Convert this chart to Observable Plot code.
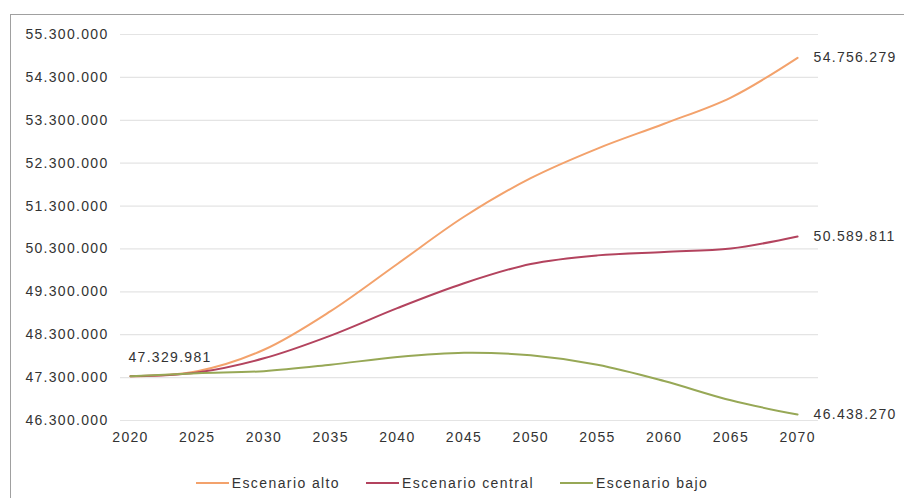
<!DOCTYPE html>
<html>
<head>
<meta charset="utf-8">
<script src="https://cdn.jsdelivr.net/npm/d3@7"></script>
<script src="https://cdn.jsdelivr.net/npm/@observablehq/plot@0.6"></script>
<style>
  html, body { margin: 0; padding: 0; background: #fff; }
  #wrap { position: relative; width: 904px; height: 498px; overflow: hidden; font-family: "Liberation Sans", Arial, sans-serif; }
  #frame { position: absolute; left: 10px; top: 14px; width: 910px; height: 500px; border-left: 1.5px solid #a0a0a0; border-top: 1.5px solid #a0a0a0; box-sizing: border-box; }
  #chart { position: absolute; left: 0; top: 0; }
  #legend { position: absolute; left: 0; top: 475px; width: 904px; display: flex; justify-content: center; gap: 26px; font-size: 14px; letter-spacing: 1.4px; color: #333; }
  .item { display: flex; align-items: center; }
  .sw { width: 33px; height: 2px; margin-right: 3px; }
</style>
</head>
<body>
<div id="wrap">
  <div id="frame"></div>
  <div id="chart"></div>
  <div id="legend"></div>
</div>
<script>
const years = [2020, 2025, 2030, 2035, 2040, 2045, 2050, 2055, 2060, 2065, 2070];
const alto    = [47329981, 47450000, 47950000, 48850000, 49950000, 51050000, 51950000, 52640000, 53220000, 53830000, 54756279];
const central = [47329981, 47420000, 47750000, 48280000, 48920000, 49500000, 49950000, 50150000, 50230000, 50310000, 50589811];
const bajo    = [47329981, 47400000, 47450000, 47600000, 47780000, 47880000, 47820000, 47600000, 47220000, 46770000, 46438270];
const seriesNames = ["Escenario alto", "Escenario central", "Escenario bajo"];
const seriesColors = ["#F3A26C", "#B3435E", "#97A856"];
const yTicks = [46300000, 47300000, 48300000, 49300000, 50300000, 51300000, 52300000, 53300000, 54300000, 55300000];

const fmt = d3.formatLocale({decimal: ",", thousands: ".", grouping: [3], currency: ["", "€"]}).format(",d");

const seriesValues = [alto, central, bajo];
const data = [];
seriesNames.forEach((name, i) => {
  years.forEach((yr, j) => data.push({series: name, year: yr, value: seriesValues[i][j]}));
});
const endLabels = seriesNames.map((name, i) => ({series: name, year: years[years.length - 1], value: seriesValues[i][years.length - 1]}));
const startLabel = [{year: years[0], value: alto[0]}];

const chart = Plot.plot({
  width: 904,
  height: 460,
  marginLeft: 120,
  marginRight: 86,
  marginTop: 34,
  marginBottom: 40,
  style: {fontFamily: "Liberation Sans, Arial, sans-serif", fontSize: "14px", color: "#333", letterSpacing: "1.3px", background: "transparent"},
  x: {domain: [2019.25, 2071.57], ticks: years, tickFormat: d => String(d), tickSize: 0, tickPadding: 12, label: null},
  y: {domain: [46300000, 55300000], ticks: yTicks, tickFormat: fmt, tickSize: 0, tickPadding: 12, label: null},
  color: {domain: seriesNames, range: seriesColors},
  marks: [
    Plot.gridY(yTicks, {stroke: "#e4e4e4", strokeOpacity: 1, strokeWidth: 1.2}),
    Plot.axisY({ticks: yTicks, tickFormat: fmt, tickSize: 0, tickPadding: 12, textAnchor: "end", fill: "#333"}),
    Plot.axisX({ticks: years, tickFormat: d => String(d), tickSize: 0, tickPadding: 12, fill: "#333"}),
    Plot.line(data, {x: "year", y: "value", z: "series", stroke: "series", strokeWidth: 2, curve: "catmull-rom"}),
    Plot.text(endLabels, {x: "year", y: "value", text: d => fmt(d.value), dx: 16, textAnchor: "start", fill: "#333", fontSize: 14}),
    Plot.text(startLabel, {x: "year", y: "value", text: d => fmt(d.value), dx: -2, dy: -19, textAnchor: "start", fill: "#333", fontSize: 14})
  ]
});
document.getElementById("chart").appendChild(chart);

const legend = document.getElementById("legend");
seriesNames.forEach((name, i) => {
  const item = document.createElement("div");
  item.className = "item";
  const sw = document.createElement("div");
  sw.className = "sw";
  sw.style.background = seriesColors[i];
  const t = document.createElement("span");
  t.textContent = name;
  item.appendChild(sw);
  item.appendChild(t);
  legend.appendChild(item);
});
</script>
</body>
</html>
